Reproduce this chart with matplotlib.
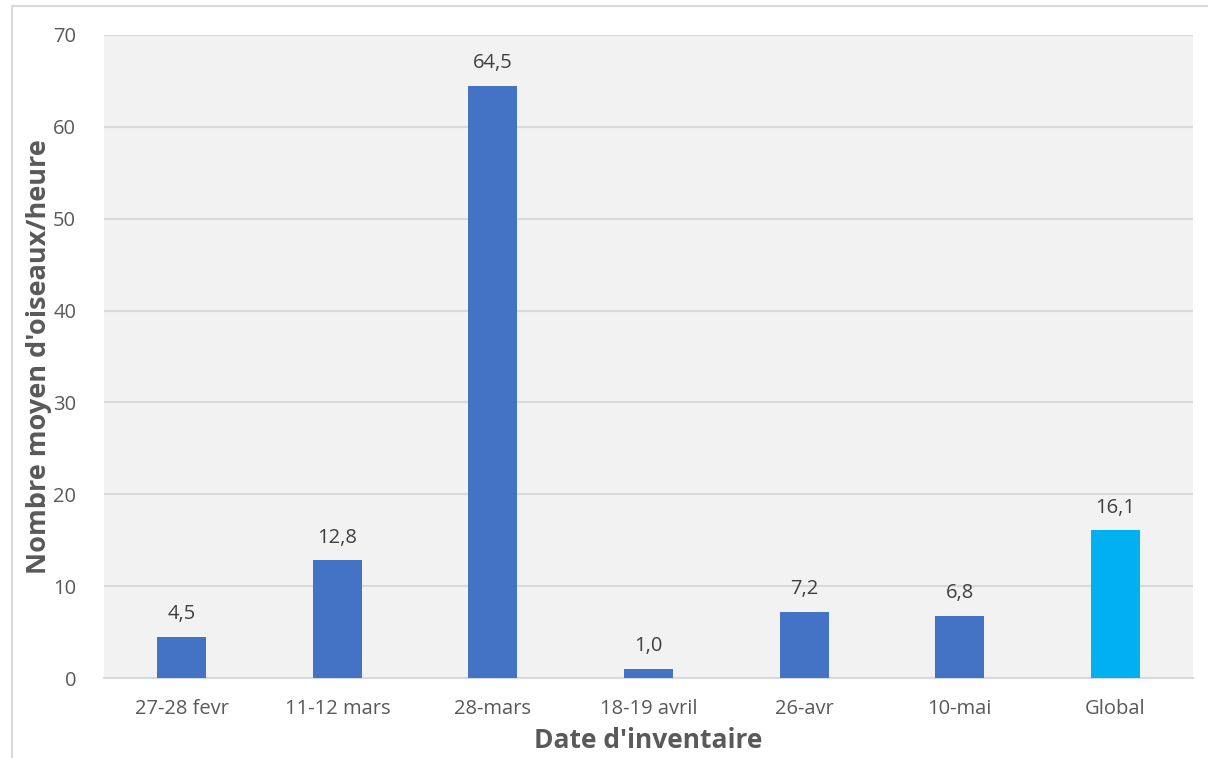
import matplotlib
matplotlib.use("Agg")
import matplotlib.pyplot as plt
from matplotlib.patches import Rectangle

categories = ["27-28 fevr", "11-12 mars", "28-mars", "18-19 avril", "26-avr", "10-mai", "Global"]
values = [4.5, 12.8, 64.5, 1.0, 7.2, 6.8, 16.1]
bar_colors = ["#4472C4"] * 6 + ["#00B0F0"]
y_ticks = [0, 10, 20, 30, 40, 50, 60, 70]

plt.rcParams["font.family"] = ["Open Sans", "DejaVu Sans"]
text_color = "#595959"

fig = plt.figure(figsize=(12.08, 7.58), dpi=100)
fig.patch.set_facecolor("white")

# outer chart frame
fig.add_artist(Rectangle((12 / 1208, -0.05), 1.2, 1.05 - 6 / 758,
                         transform=fig.transFigure, fill=False,
                         edgecolor="#d9d9d9", linewidth=1.5))

ax = fig.add_axes([104 / 1208, 1 - 678 / 758, (1193 - 104) / 1208, (678 - 35) / 758])
ax.set_facecolor("#f2f2f2")

x = range(len(categories))
ax.bar(x, values, width=0.315, color=bar_colors, zorder=3)

for xi, v in zip(x, values):
    ax.annotate(f"{v:.1f}".replace(".", ","), (xi, v), xytext=(0, 9),
                textcoords="offset points", ha="center", va="bottom",
                fontsize=14.5, color="#404040")

ax.set_xlim(-0.5, len(categories) - 0.5)
ax.set_ylim(0, 70)
ax.set_yticks(y_ticks)
ax.set_xticks(list(x))
ax.set_xticklabels(categories)
ax.yaxis.grid(True, color="#d9d9d9", linewidth=1.5, zorder=0)
ax.set_axisbelow(True)
for side in ["left", "right", "top"]:
    ax.spines[side].set_visible(False)
ax.spines["bottom"].set_color("#d9d9d9")
ax.spines["bottom"].set_linewidth(1.5)
ax.tick_params(axis="both", length=0, labelsize=14.5, colors=text_color)
ax.tick_params(axis="x", pad=15)
ax.tick_params(axis="y", pad=20)

ax.set_xlabel("Date d'inventaire", fontsize=19, fontweight="bold", color=text_color, labelpad=6)
ax.set_ylabel("Nombre moyen d'oiseaux/heure", fontsize=19.5, fontweight="bold", color=text_color, labelpad=1)

fig.savefig("out.png", dpi=100, facecolor="white")
